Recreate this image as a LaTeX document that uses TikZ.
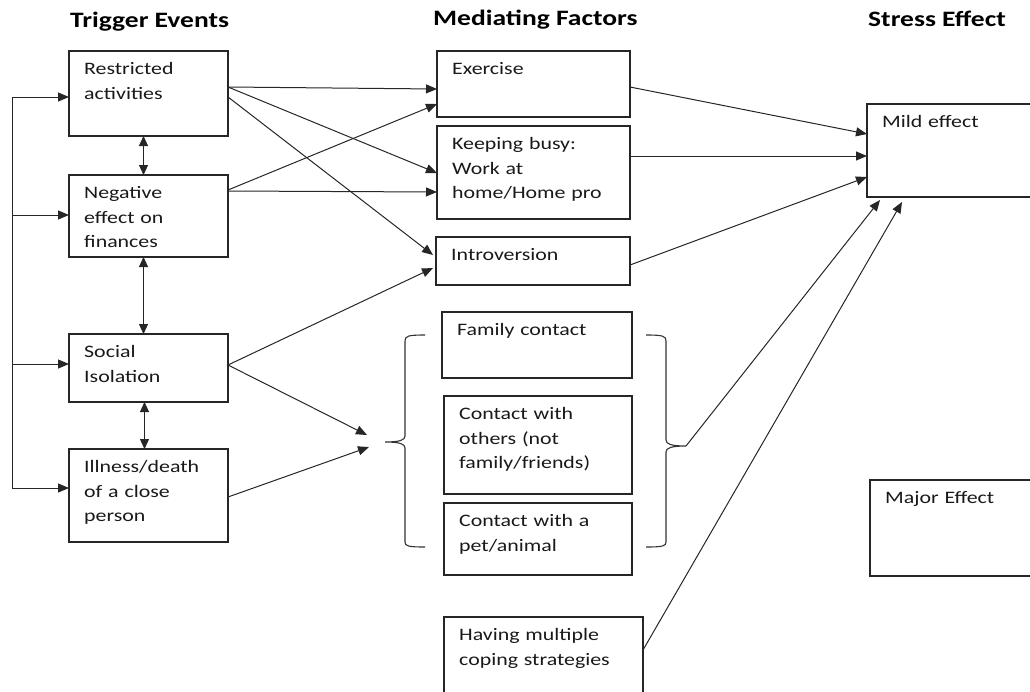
\documentclass[tikz,border=0pt]{standalone}
\usepackage{fontspec}
\setmainfont{Carlito}[FakeStretch=1.25]
\usetikzlibrary{arrows.meta}
\newcommand{\boxfont}{\fontsize{17.5}{24.5}\selectfont}
\newcommand{\headfont}{\bfseries\fontsize{22}{26}\selectfont}

\begin{document}
\begin{tikzpicture}[x=1pt, y=-1pt,
    box/.style={draw=black!85, line width=1.4pt, anchor=north west, inner sep=0pt, outer sep=0pt},
    txt/.style={anchor=base west, inner sep=0pt, text width=180pt, align=left, xshift=15pt, yshift=-23.5pt, font=\boxfont, text=black!90},
    heading/.style={anchor=base west, inner sep=0pt, font=\headfont, text=black},
    arr/.style={draw=black!85, line width=1pt, -{Triangle[length=11pt,width=9pt]}},
    dbl/.style={draw=black!85, line width=1.1pt, {Triangle[length=10pt,width=9pt]}-{Triangle[length=10pt,width=9pt]}},
    brace/.style={draw=black!80, line width=1.1pt}]
      \useasboundingbox (0,0) rectangle (1030,691);
      \clip (0,0) rectangle (1030,691);

      % column headings
      \node[heading] (h1) at (70,27) {Trigger Events};
      \node[heading] (h2) at (433,25) {Mediating Factors};
      \node[heading] (h3) at (868,26) {Stress Effect};

      % trigger events
      \node[box, minimum width=159, minimum height=85, label={[txt]north west:{Restricted\\activities}}] (ra) at (69,51) {};
      \node[box, minimum width=159, minimum height=82, label={[txt]north west:{Negative\\effect on\\finances}}] (nf) at (69,175) {};
      \node[box, minimum width=159, minimum height=68, label={[txt]north west:{Social\\Isolation}}] (si) at (69,334) {};
      \node[box, minimum width=159, minimum height=93, label={[txt]north west:{Illness/death\\of a close\\person}}] (il) at (69,449) {};

      % mediating factors
      \node[box, minimum width=193, minimum height=66, label={[txt]north west:{Exercise}}] (ex) at (437,51) {};
      \node[box, minimum width=193, minimum height=93, label={[txt]north west:{Keeping busy:\\Work at\\home/Home pro}}] (kb) at (437,126) {};
      \node[box, minimum width=194, minimum height=48, label={[txt]north west:{Introversion}}] (iv) at (436,237) {};
      \node[box, minimum width=190, minimum height=66, label={[txt]north west:{Family contact}}] (fc) at (442,312) {};
      \node[box, minimum width=188, minimum height=98, label={[txt]north west:{Contact with\\others (not\\family/friends)}}] (co) at (444,396) {};
      \node[box, minimum width=188, minimum height=72, label={[txt]north west:{Contact with a\\pet/animal}}] (pa) at (444,503) {};
      \node[box, minimum width=199, minimum height=100, label={[txt]north west:{Having multiple\\coping strategies}}] (cs) at (444,617) {};

      % stress effect
      \node[box, minimum width=200, minimum height=93, label={[txt]north west:{Mild effect}}] (me) at (867,104) {};
      \node[box, minimum width=200, minimum height=96, label={[txt]north west:{Major Effect}}] (ma) at (870,480) {};

      % feedback line on the left
      \coordinate (bustop) at (12,97);
      \coordinate (busbot) at (12,488);
      \draw[draw=black!85, line width=1pt] (bustop) -- (busbot);
      \draw[arr] (bustop) -- (bustop -| ra.west);
      \draw[arr] ([yshift=1pt]nf.west -| bustop) -- ([yshift=1pt]nf.west);
      \draw[arr] ([yshift=4pt]si.west -| bustop) -- ([yshift=4pt]si.west);
      \draw[arr] (busbot) -- (busbot -| il.west);

      % links between triggers
      \draw[dbl] ([xshift=-5pt]ra.south) -- ([xshift=-5pt]nf.north);
      \draw[dbl] ([xshift=-5pt]nf.south) -- ([xshift=-5pt]si.north);
      \draw[dbl] ([xshift=-4pt]si.south) -- ([xshift=-4pt]il.north);

      % triggers to mediating factors
      \draw[arr] ([yshift=-36pt]ra.north east) -- ([yshift=-38pt]ex.north west);
      \draw[arr] ([yshift=-36pt]ra.north east) -- ([yshift=-47pt]kb.north west);
      \draw[arr] ([yshift=-46pt]ra.north east) -- ([xshift=-3pt,yshift=-18pt]iv.north west);
      \draw[arr] ([yshift=-15pt]nf.north east) -- ([yshift=-53pt]ex.north west);
      \draw[arr] ([yshift=-16pt]nf.north east) -- ([yshift=-66pt]kb.north west);
      \draw[arr] ([yshift=-31pt]si.north east) -- ([xshift=-3pt,yshift=-31pt]iv.north west);

      % contact group with braces
      \coordinate (in1) at (367,435);
      \coordinate (in2) at (369,447);
      \draw[arr] ([yshift=-31pt]si.north east) -- (in1);
      \draw[arr] ([yshift=-48pt]il.north east) -- (in2);
      \draw[brace] (425,335) .. controls (408,335) and (405,336) .. (405,341) -- (405,436)
        .. controls (405,440) and (400,442) .. (385,442) .. controls (400,442) and (405,444) .. (405,448)
        -- (405,542) .. controls (405,546) and (408,547) .. (425,547);
      \coordinate (rbtip) at (686,446);
      \draw[brace] (646,335) .. controls (663,335) and (666,336) .. (666,341) -- (666,440)
        .. controls (666,444) and (671,446) .. (rbtip) .. controls (671,446) and (666,448) .. (666,452)
        -- (666,542) .. controls (666,546) and (663,547) .. (646,547);

      % mediating factors to stress effect
      \draw[arr] ([yshift=-36pt]ex.north east) -- ([yshift=-30pt]me.north west);
      \draw[arr] ([yshift=-30pt]kb.north east) -- ([yshift=-52pt]me.north west);
      \draw[arr] ([yshift=-28pt]iv.north east) -- ([yshift=-73pt]me.north west);
      \draw[arr] (rbtip) -- ([xshift=13pt,yshift=-3pt]me.south west);
      \draw[arr] ([yshift=-33pt]cs.north east) -- ([xshift=35pt,yshift=-5pt]me.south west);
\end{tikzpicture}
\end{document}
